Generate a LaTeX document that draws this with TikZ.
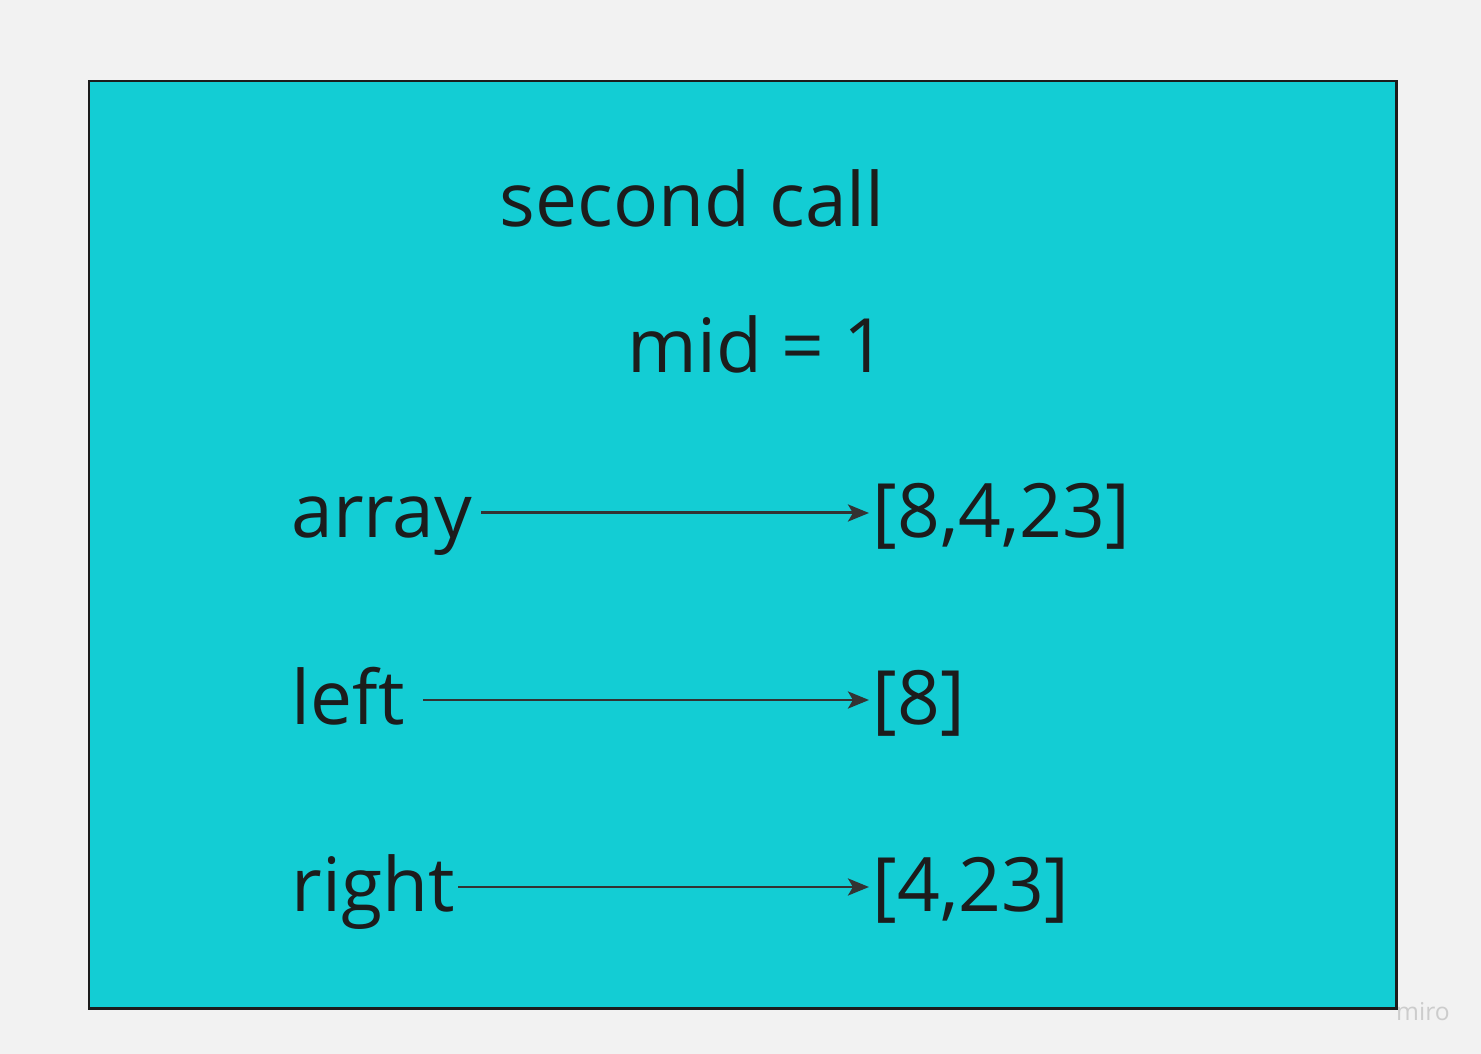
\documentclass[tikz,border=0pt]{standalone}
\usepackage{fontspec}
\setmainfont{Open Sans}
\usetikzlibrary{arrows.meta,positioning}
\definecolor{bggray}{HTML}{F2F2F2}
\definecolor{boxcyan}{HTML}{13CDD4}
\definecolor{inkdark}{HTML}{1C1C1C}
\definecolor{arrowgray}{HTML}{333333}
\tikzset{
	frame/.style = {
		draw=inkdark, 
		fill=boxcyan, 
		line width=0.85pt
	},
	word/.style = {
		anchor=base west, 
		inner sep=0pt, 
		text=inkdark, 
		font=\fontsize{21.3}{25}\selectfont, 
		text height=0.56cm, 
		text depth=0.08cm
	},
	signal/.style = {
		-{Stealth[length=0.21cm, width=0.17cm, inset=0.05cm]}, 
		draw=arrowgray, 
		line width=0.85pt
	}
}
\begin{document}
\begin{tikzpicture}[x=0.01cm, y=-0.01cm]
		
		% --- fondo ---
		\fill[bggray] (0,0) rectangle (1481,1054);
		\useasboundingbox (0,0) rectangle (1481,1054);
		
		% --- caja principal ---
		\draw[frame] (89,81) rectangle (1396,1008);
		
		% --- textos ---
		\node [word] (title) at (499,226) {second call};
		\node [word] (mid) at (627,372) {mid = 1};
		
		\node [word] (arr) at (291,537) {array};
		\node [word] (arrval) at (872,537) {[8,4,23]};
		
		\node [word] (lft) at (291,724) {left};
		\node [word] (lftval) at (872,724) {[8]};
		
		\node [word] (rgt) at (291,911) {right};
		\node [word] (rgtval) at (872,911) {[4,23]};
		
		% --- flechas ---
		\draw [signal] ([xshift=0.08cm]arr.east) -- ([xshift=-0.03cm]arrval.west);
		\draw [signal] ([xshift=0.18cm]lft.east) -- ([xshift=-0.03cm]lftval.west);
		\draw [signal] ([xshift=0.03cm]rgt.east) -- ([xshift=-0.03cm]rgtval.west);
		
		% --- marca de agua ---
		\node [text=black!20, font=\fontsize{7}{8}\selectfont, inner sep=1pt] (wmark) at (1423,1012) {miro};
		
	\end{tikzpicture}
\end{document}
